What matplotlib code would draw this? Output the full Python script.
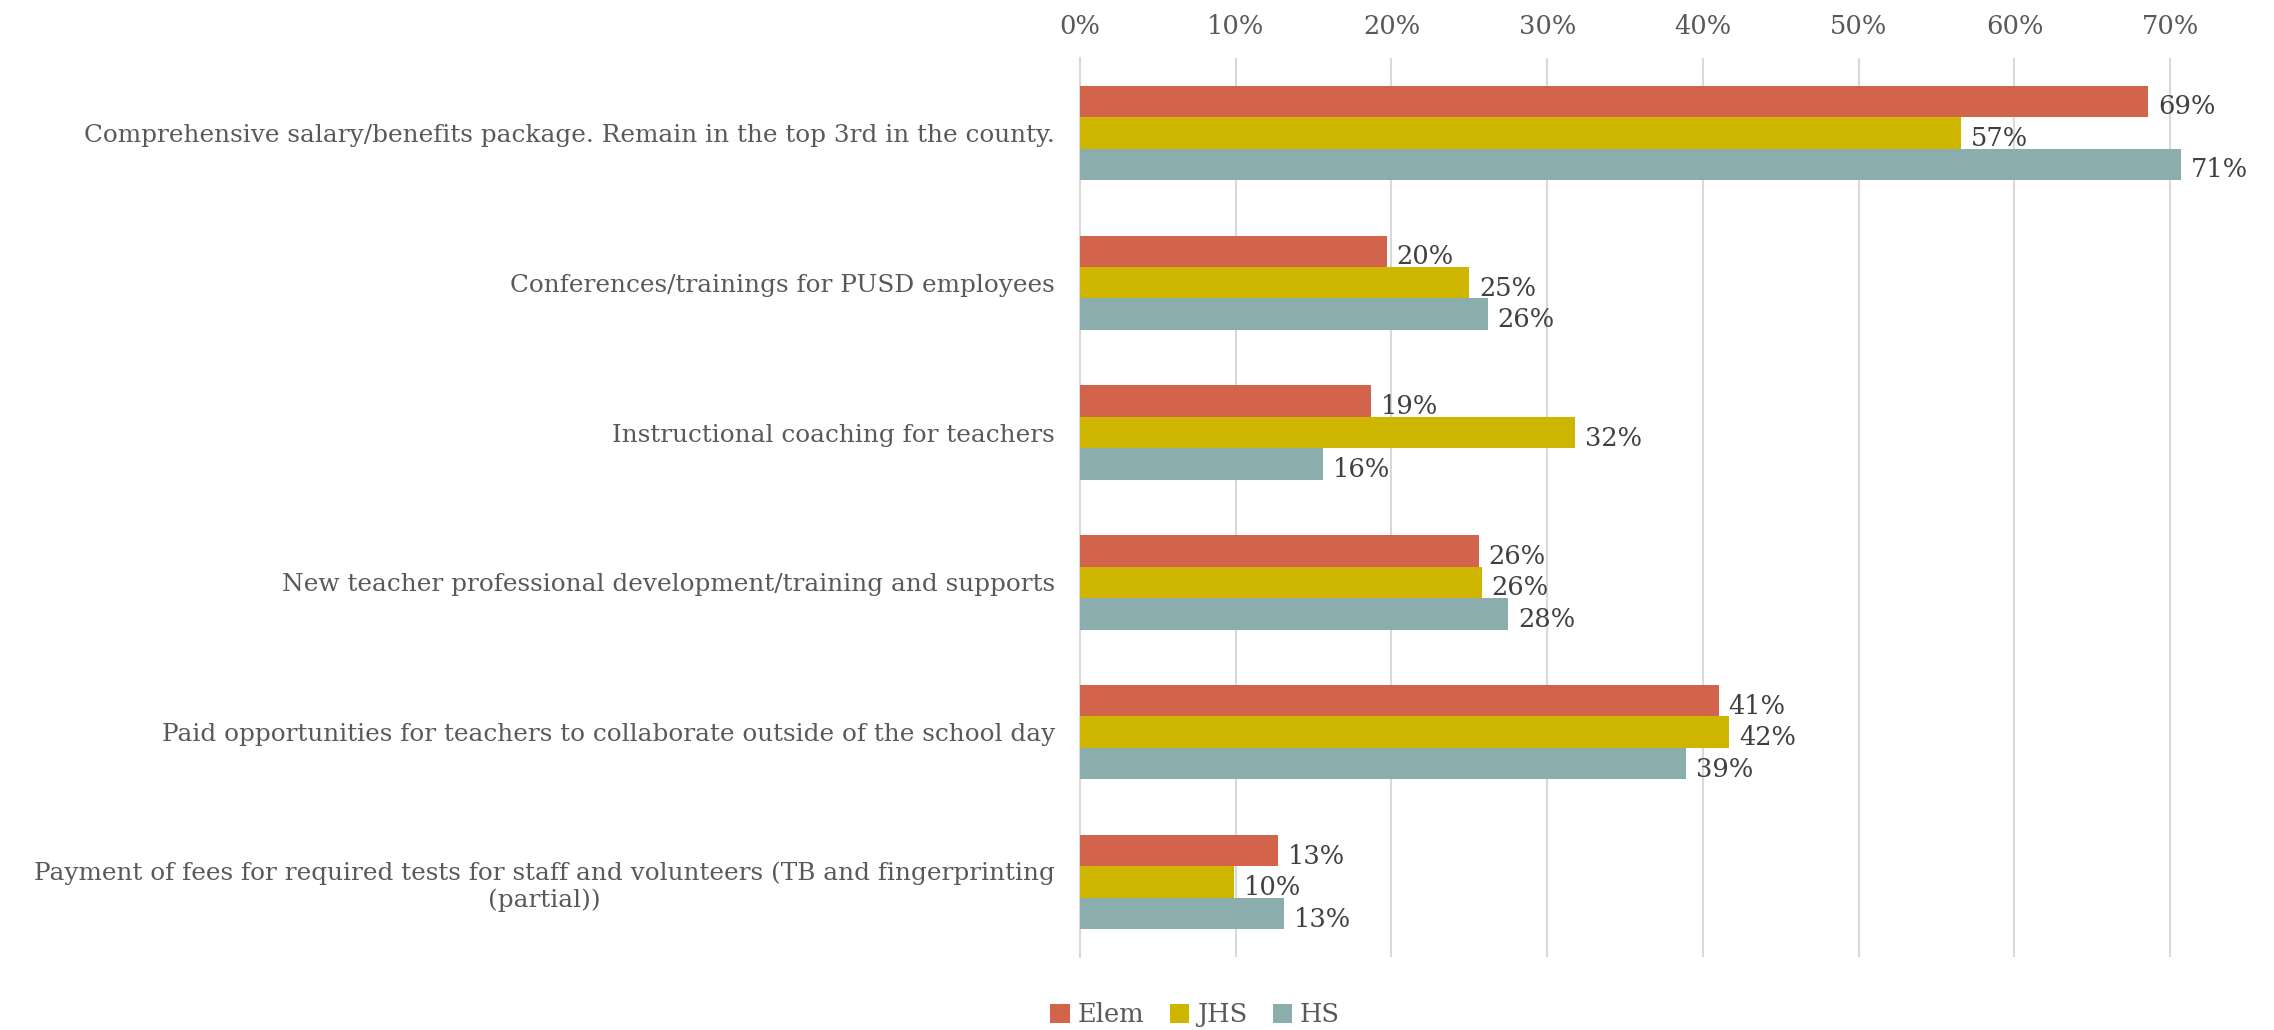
import numpy as np
import matplotlib
matplotlib.use("Agg")
import matplotlib.pyplot as plt

categories = [
    "Comprehensive salary/benefits package. Remain in the top 3rd in the county.",
    "Conferences/trainings for PUSD employees",
    "Instructional coaching for teachers",
    "New teacher professional development/training and supports",
    "Paid opportunities for teachers to collaborate outside of the school day",
    "Payment of fees for required tests for staff and volunteers (TB and fingerprinting\n(partial))",
]
series_names = ["Elem", "JHS", "HS"]
elem = [0.686, 0.197, 0.187, 0.256, 0.410, 0.127]
jhs = [0.566, 0.250, 0.318, 0.258, 0.417, 0.099]
hs = [0.707, 0.262, 0.156, 0.275, 0.389, 0.131]
colors = ["#D1644A", "#CDB500", "#8CADAD"]
ticks = [0.0, 0.1, 0.2, 0.3, 0.4, 0.5, 0.6, 0.7]

text_gray = "#595959"
fsize = 18.5
plt.rcParams["font.family"] = ["DejaVu Serif"]

fig = plt.figure(figsize=(22.74, 10.30), dpi=100)
ax = fig.add_axes([0.4749, 0.0709, 0.9886 - 0.4749, 0.9437 - 0.0709])

y = np.arange(len(categories))
h = 0.21
for i, (vals, name, col) in enumerate(zip([elem, jhs, hs], series_names, colors)):
    pos = y + (i - 1) * h
    ax.barh(pos, vals, height=h, color=col, label=name, zorder=3)
    for p, v in zip(pos, vals):
        ax.annotate(f"{round(v * 100):d}%", (v, p), xytext=(7, -4), textcoords="offset points",
                    ha="left", va="center", fontsize=fsize, color="#404040")

ax.set_xlim(0, 0.75)
ax.set_ylim(len(categories) - 0.5, -0.5)
ax.set_xticks(ticks)
ax.set_xticklabels([f"{int(round(t * 100))}%" for t in ticks], fontsize=fsize, color=text_gray)
ax.xaxis.tick_top()
ax.tick_params(axis="x", length=0, pad=14)
ax.set_yticks(y)
ax.set_yticklabels(categories, fontsize=17.8, color=text_gray, multialignment="center")
ax.tick_params(axis="y", length=0, pad=18)
ax.grid(axis="x", color="#D9D9D9", linewidth=1.5, zorder=0)
for s in ["top", "right", "bottom"]:
    ax.spines[s].set_visible(False)
ax.spines["left"].set_color("#D9D9D9")
ax.spines["left"].set_linewidth(1.5)

leg = fig.legend(loc="lower center", bbox_to_anchor=(0.5255, -0.02), ncol=3, frameon=False,
                 fontsize=fsize, handlelength=0.75, handleheight=0.75, handletextpad=0.3,
                 columnspacing=1.0)
for t in leg.get_texts():
    t.set_color(text_gray)

fig.savefig("out.png", dpi=100)
